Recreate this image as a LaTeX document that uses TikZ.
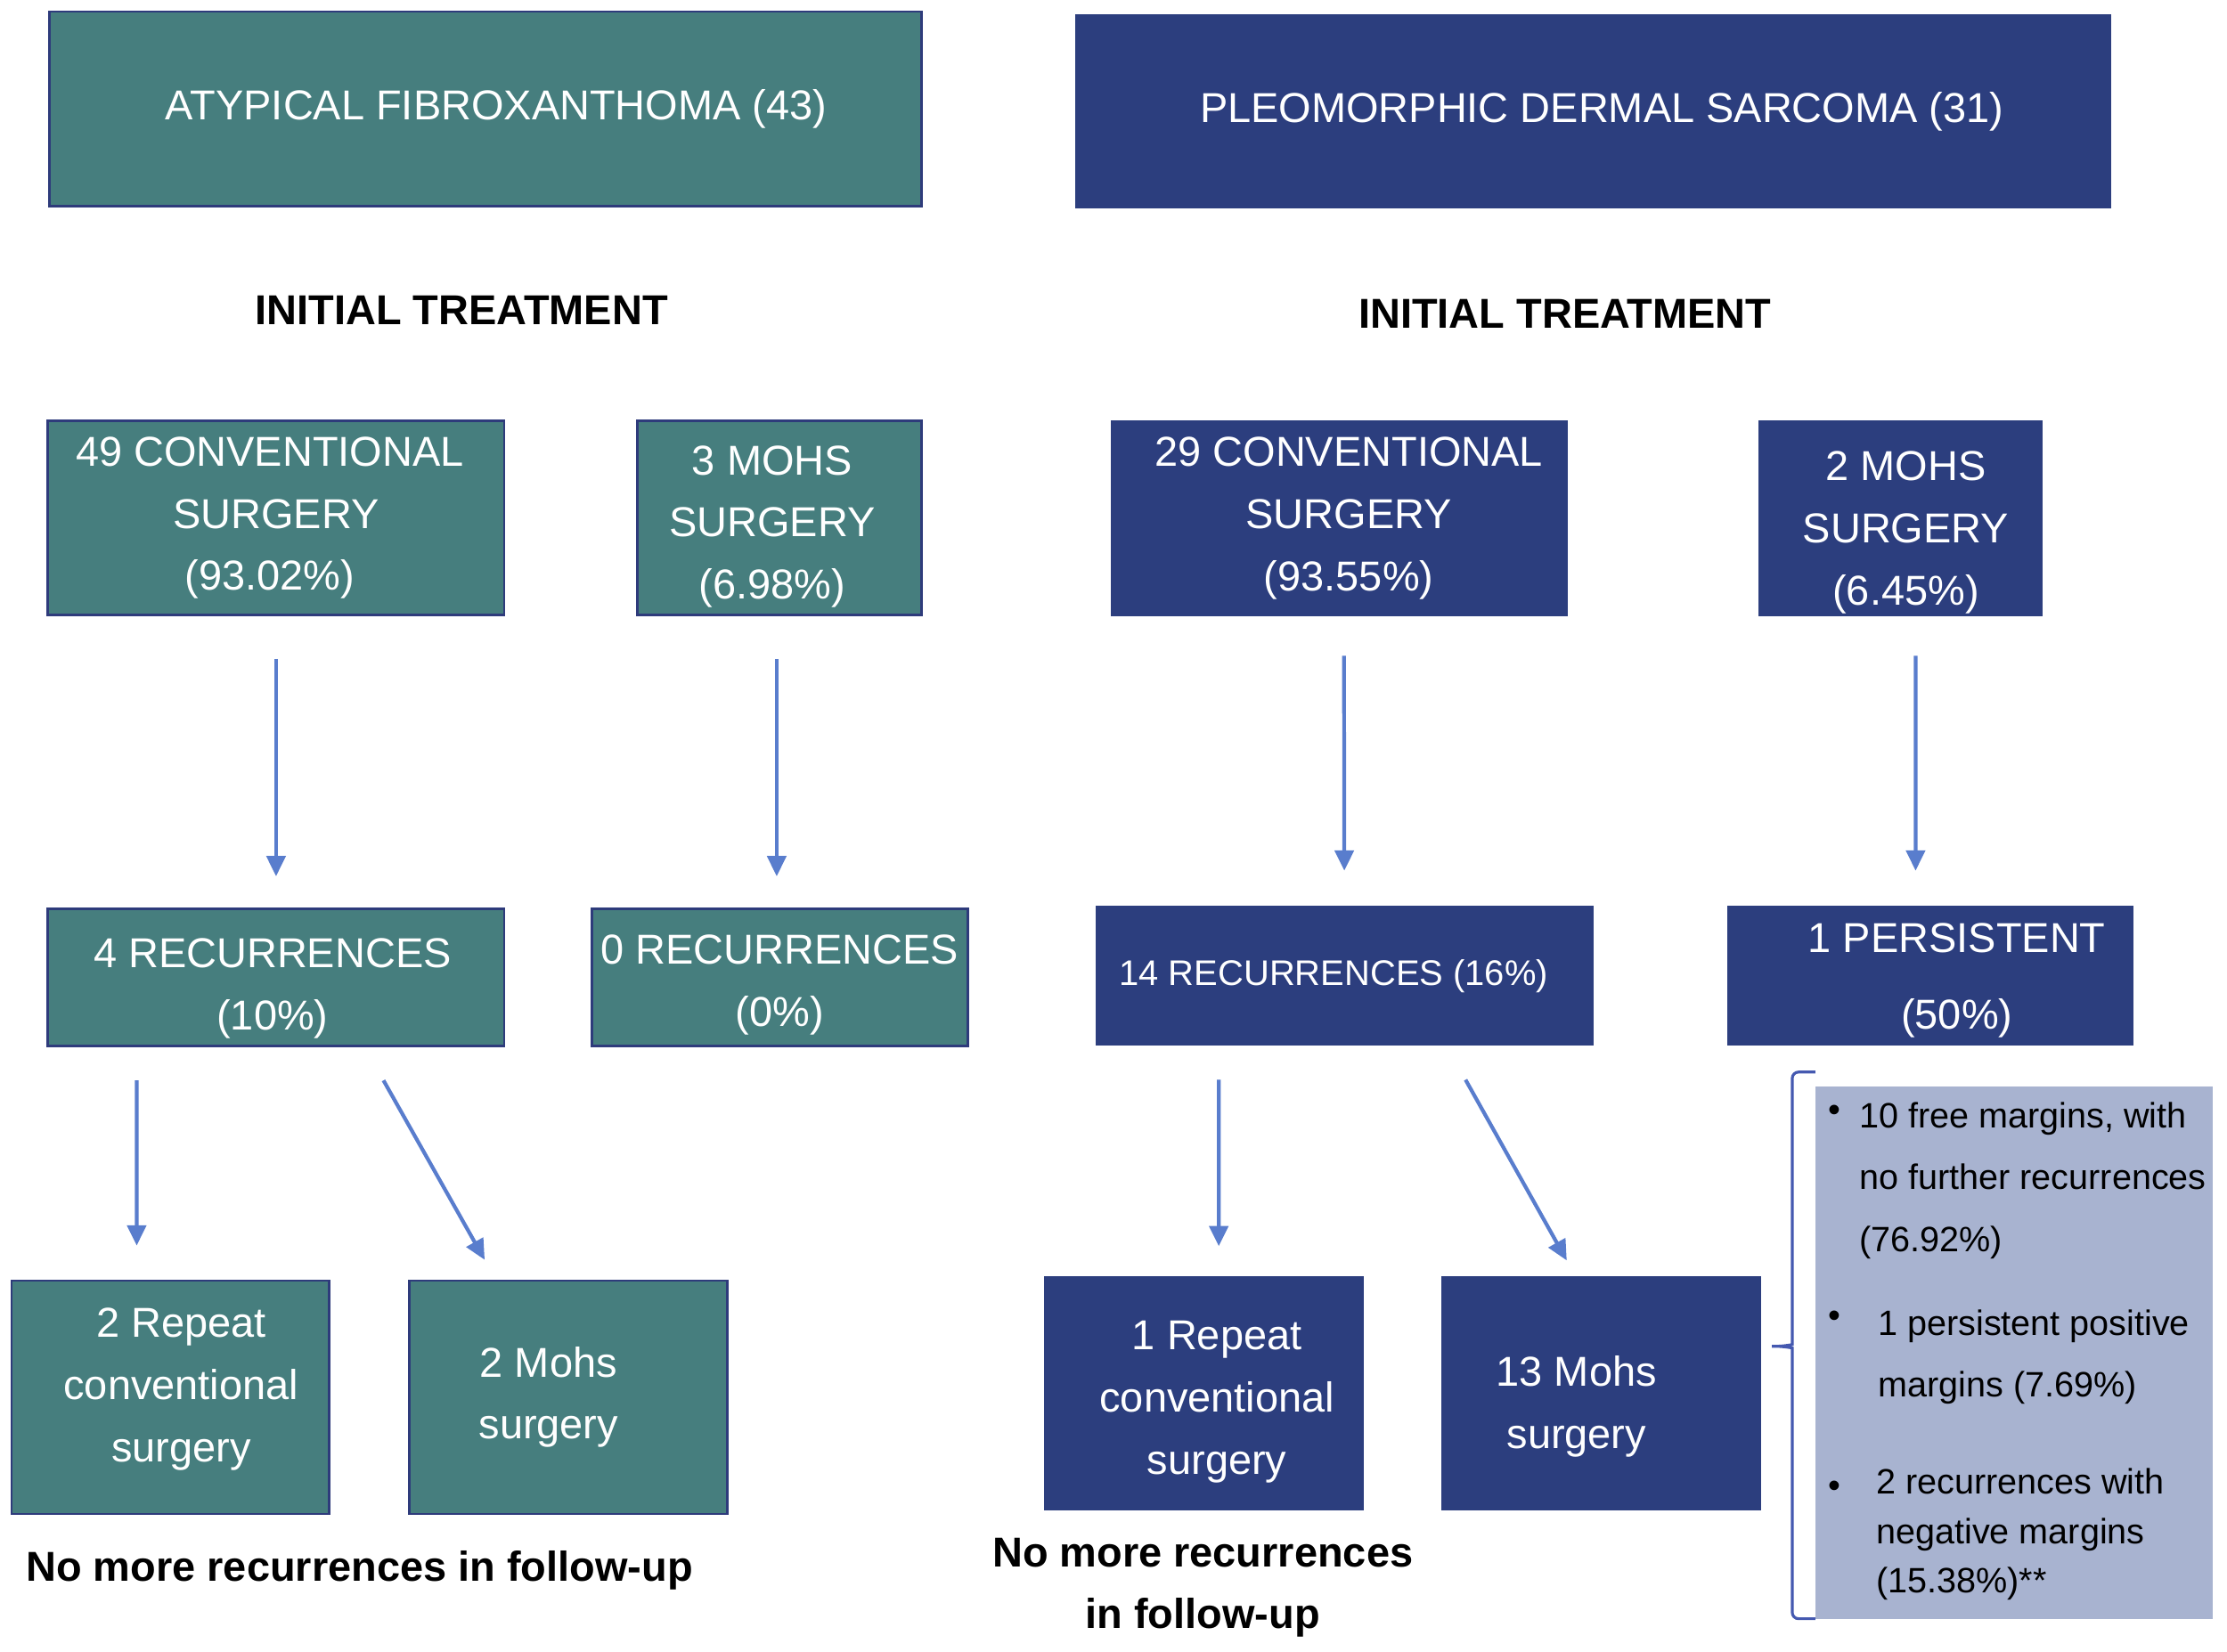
\documentclass[tikz,border=0pt]{standalone}
\usepackage{fontspec}
\setmainfont{Liberation Sans}
\usetikzlibrary{arrows.meta}

\definecolor{afxteal}{RGB}{70,126,126}
\definecolor{afxline}{RGB}{46,59,123}
\definecolor{pdsblue}{RGB}{44,62,126}
\definecolor{arrblue}{RGB}{89,125,205}
\definecolor{notegray}{RGB}{168,179,208}
\definecolor{braceblue}{RGB}{69,89,176}

\tikzset{
  afxbox/.style={draw=afxline, line width=0.8pt, fill=afxteal, text=white, align=center,
    inner sep=0pt, font=\fontsize{13.4}{19.9}\selectfont},
  pdsbox/.style={fill=pdsblue, text=white, align=center, inner sep=0pt,
    font=\fontsize{13.4}{19.9}\selectfont},
  arr/.style={draw=arrblue, line width=1.2pt, -{Triangle[length=6.5pt,width=6pt]}},
  heading/.style={font=\fontsize{13.4}{19.9}\selectfont\bfseries, align=center},
  note/.style={anchor=north west, align=left, inner sep=0pt, font=\fontsize{11.3}{19.9}\selectfont}
}

\begin{document}
\begin{tikzpicture}[scale=0.9965, transform shape]
\useasboundingbox (0,0) rectangle (25.088,-18.615);

% diagnoses
\node[afxbox, minimum width=9.82cm, minimum height=2.19cm] (afx) at (5.47,-1.225)
  {\hspace*{0.24cm}ATYPICAL FIBROXANTHOMA (43)};
\node[pdsbox, minimum width=11.67cm, minimum height=2.19cm] (pds) at (17.945,-1.255)
  {\hspace*{0.2cm}PLEOMORPHIC DERMAL SARCOMA (31)};

% headings
\node[heading] (itafx) at (5.2,-3.5) {INITIAL TREATMENT};
\node[heading] (itpds) at (17.63,-3.54) {INITIAL TREATMENT};

% initial treatment
\node[afxbox, minimum width=5.14cm, minimum height=2.19cm] (conv) at (3.11,-5.835)
  {49 CONVENTIONAL\hspace*{0.14cm}\\SURGERY\hspace*{0.14cm}\\(93.02\%)\hspace*{0.14cm}};
\node[afxbox, minimum width=3.2cm, minimum height=2.19cm] (mohs) at (8.78,-5.835)
  {\hspace*{-0.16cm}3 MOHS\\\hspace*{-0.16cm}SURGERY\\\hspace*{-0.16cm}(6.98\%)\\[-22.7pt]};
\node[pdsbox, minimum width=5.15cm, minimum height=2.2cm] (pconv) at (15.085,-5.84)
  {\hspace*{0.22cm}29 CONVENTIONAL\\\hspace*{0.22cm}SURGERY\\\hspace*{0.22cm}(93.55\%)};
\node[pdsbox, minimum width=3.2cm, minimum height=2.2cm] (pmohs) at (21.41,-5.84)
  {\hspace*{0.12cm}2 MOHS\\\hspace*{0.12cm}SURGERY\\\hspace*{0.12cm}(6.45\%)\\[-26.2pt]};

% outcome
\node[afxbox, minimum width=5.14cm, minimum height=1.55cm] (rec) at (3.11,-11.015)
  {\hspace*{-0.08cm}4 RECURRENCES\\\hspace*{-0.08cm}(10\%)\\[-24pt]};
\node[afxbox, minimum width=4.23cm, minimum height=1.55cm] (recz) at (8.785,-11.015)
  {0 RECURRENCES\\(0\%)\\[-21.8pt]};
\node[pdsbox, minimum width=5.61cm, minimum height=1.57cm, font=\fontsize{11.4}{16}\selectfont]
  (prec) at (15.145,-10.995) {14 RECURRENCES (16\%)\hspace*{0.24cm}};
\node[pdsbox, minimum width=4.57cm, minimum height=1.57cm] (ppers) at (21.745,-10.995)
  {\hspace*{0.6cm}1 PERSISTENT\\[4.6pt]\hspace*{0.6cm}(50\%)\\[-20.2pt]};

% second treatment
\node[afxbox, minimum width=3.58cm, minimum height=2.63cm] (rep) at (1.92,-15.745)
  {\hspace*{0.24cm}2 Repeat\\\hspace*{0.24cm}conventional\\\hspace*{0.24cm}surgery\\[-12pt]};
\node[afxbox, minimum width=3.58cm, minimum height=2.63cm] (mohsb) at (6.4,-15.745)
  {\hspace*{-0.44cm}2 Mohs\\\hspace*{-0.44cm}surgery};
\node[pdsbox, minimum width=3.6cm, minimum height=2.64cm] (prep) at (13.56,-15.7)
  {\hspace*{0.3cm}1 Repeat\\\hspace*{0.3cm}conventional\\\hspace*{0.3cm}surgery\\[-22.6pt]};
\node[pdsbox, minimum width=3.6cm, minimum height=2.64cm] (pmohsb) at (18.04,-15.7)
  {\hspace*{-0.56cm}13 Mohs\\\hspace*{-0.56cm}surgery\\[-25.4pt]};

% follow-up
\node[heading] (fuafx) at (4.05,-17.7) {No more recurrences in follow-up};
\node[heading] (fupds) at (13.55,-17.89) {No more recurrences\\in follow-up};

% margins
\node[fill=notegray, minimum width=4.48cm, minimum height=6cm, inner sep=0pt] (marg) at (22.69,-15.24) {};
\node[note] (m1) at (20.94,-12.41) {10 free margins, with\\no further recurrences\\(76.92\%)};
\node[note] (m2) at (21.15,-14.75) {1 persistent positive\\margins (7.69\%)};
\node[note, font=\fontsize{11.3}{15.9}\selectfont] (m3) at (21.13,-16.54)
  {2 recurrences with\\negative margins\\(15.38\%)**};
\node[inner sep=0pt, font=\fontsize{11.3}{12}\selectfont] (b1) at (20.67,-12.55) {\textbullet};
\node[inner sep=0pt, font=\fontsize{11.3}{12}\selectfont] (b2) at (20.67,-14.86) {\textbullet};
\node[inner sep=0pt, font=\fontsize{11.3}{12}\selectfont] (b3) at (20.67,-16.78) {\textbullet};

% brace
\draw[braceblue, line width=0.9pt, rounded corners=2pt]
  (20.45,-12.08) -- (20.19,-12.08) -- (20.19,-15.08)
  .. controls (20.19,-15.15) and (20.1,-15.17) .. (19.92,-15.17)
  .. controls (20.1,-15.17) and (20.19,-15.19) .. (20.19,-15.26)
  -- (20.19,-18.24) -- (20.45,-18.24);

% arrows
\draw[arr, shorten <=0.48cm, shorten >=0.35cm] (conv.south) -- (rec.north);
\draw[arr, shorten <=0.48cm, shorten >=0.35cm] ([xshift=-0.03cm]mohs.south) -- ([xshift=-0.035cm]recz.north);
\draw[arr, shorten <=0.44cm, shorten >=0.39cm] ([xshift=0.055cm]pconv.south) -- (prec.north);
\draw[arr, shorten <=0.44cm, shorten >=0.39cm] ([xshift=0.17cm]pmohs.south) -- ([xshift=-0.165cm]ppers.north);

\draw[arr] ([xshift=-1.57cm,yshift=-0.37cm]rec.south) -- ([xshift=-0.38cm,yshift=0.38cm]rep.north);
\draw[arr] ([xshift=1.21cm,yshift=-0.37cm]rec.south) -- ([xshift=-0.94cm,yshift=0.22cm]mohsb.north);
\draw[arr] ([xshift=-1.415cm,yshift=-0.38cm]prec.south) -- ([xshift=0.17cm,yshift=0.33cm]prep.north);
\draw[arr] ([xshift=1.365cm,yshift=-0.38cm]prec.south) -- ([xshift=-0.39cm,yshift=0.17cm]pmohsb.north);

\end{tikzpicture}
\end{document}
